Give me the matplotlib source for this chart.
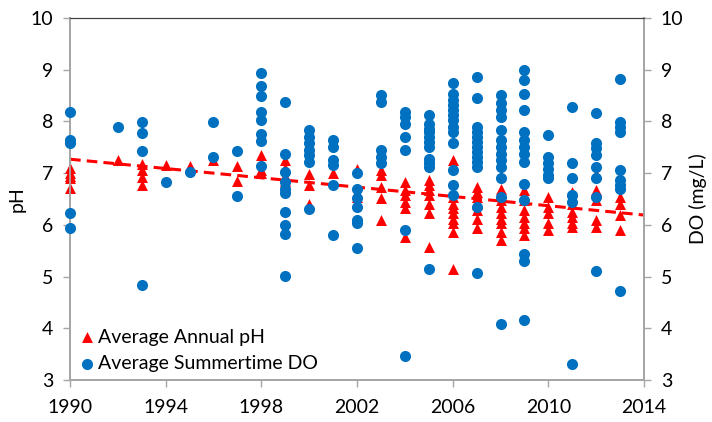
import numpy as np
import matplotlib
matplotlib.use("Agg")
import matplotlib.pyplot as plt

# pH annual averages, per year
ph_years = ([1990] * 5 + [1992] + [1993] * 4 + [1994, 1995, 1996] + [1997] * 2 + [1998] * 3
            + [1999] * 4 + [2000] * 3 + [2001] + [2002] * 3 + [2003] * 5 + [2004] * 6
            + [2005] * 7 + [2006] * 9 + [2007] * 7 + [2008] * 8 + [2009] * 7 + [2010] * 5
            + [2011] * 6 + [2012] * 5 + [2013] * 4)
ph_values = [7.10, 7.00, 6.95, 6.90, 6.71,
             7.25,
             7.18, 7.06, 6.93, 6.77,
             7.16, 7.14, 7.25,
             7.14, 6.85,
             7.35, 7.06, 7.00,
             7.25, 7.10, 6.95, 6.85,
             6.99, 6.77, 6.41,
             7.00,
             7.09, 6.61, 6.54,
             7.06, 6.96, 6.74, 6.51, 6.09,
             6.83, 6.67, 6.57, 6.44, 6.32, 5.77,
             6.86, 6.77, 6.67, 6.57, 6.41, 6.22, 5.57,
             7.25, 6.54, 6.41, 6.32, 6.22, 6.12, 6.03, 5.86, 5.14,
             6.74, 6.64, 6.54, 6.41, 6.28, 6.12, 5.93,
             6.70, 6.48, 6.35, 6.22, 6.12, 6.03, 5.86, 5.70,
             6.67, 6.48, 6.28, 6.15, 6.03, 5.93, 5.80,
             6.54, 6.35, 6.22, 6.03, 5.90,
             6.64, 6.41, 6.25, 6.15, 6.03, 5.96,
             6.99, 6.67, 6.48, 6.09, 5.96,
             6.54, 6.41, 6.19, 5.90]

# summertime dissolved oxygen, per year
do_years = ([1990] * 5 + [1992] + [1993] * 4 + [1994, 1995] + [1996] * 2 + [1997] * 2
            + [1998] * 8 + [1999] * 10 + [2000] * 7 + [2001] * 6 + [2002] * 7 + [2003] * 5
            + [2004] * 7 + [2005] * 11 + [2006] * 13 + [2007] * 13 + [2008] * 13
            + [2009] * 14 + [2010] * 6 + [2011] * 6 + [2012] * 8 + [2013] * 9)
do_values = [8.18, 7.64, 7.58, 6.23, 5.93,
             7.90,
             7.99, 7.77, 7.43, 4.84,
             6.83, 7.03,
             7.99, 7.32,
             7.43, 6.56,
             8.94, 8.68, 8.49, 8.19, 8.03, 7.75, 7.63, 7.14,
             8.38, 7.37, 7.03, 6.83, 6.70, 6.61, 6.24, 5.99, 5.83, 5.01,
             7.83, 7.70, 7.58, 7.45, 7.35, 7.22, 6.30,
             7.64, 7.51, 7.25, 7.16, 6.77, 5.81,
             7.00, 6.70, 6.51, 6.35, 6.09, 6.03, 5.56,
             8.51, 8.38, 7.45, 7.32, 7.19,
             8.19, 8.09, 7.96, 7.70, 7.45, 5.91, 3.46,
             8.12, 7.96, 7.86, 7.80, 7.70, 7.61, 7.51, 7.28, 7.19, 7.12, 5.14,
             8.74, 8.54, 8.41, 8.32, 8.22, 8.12, 8.03, 7.90, 7.80, 7.58, 7.06, 6.77, 6.57,
             8.86, 8.45, 7.90, 7.80, 7.70, 7.61, 7.51, 7.41, 7.32, 7.22, 7.12, 6.35, 5.07,
             8.51, 8.35, 8.22, 8.09, 7.83, 7.64, 7.51, 7.38, 7.25, 7.12, 6.90, 6.54, 4.09,
             8.99, 8.80, 8.54, 8.22, 7.80, 7.64, 7.51, 7.38, 7.22, 6.80, 6.48, 5.43, 5.30, 4.17,
             7.74, 7.32, 7.19, 7.09, 6.96, 6.90,
             8.28, 7.19, 6.90, 6.57, 6.44, 3.30,
             8.16, 7.58, 7.48, 7.35, 7.12, 6.90, 6.54, 5.10,
             8.83, 7.99, 7.90, 7.80, 7.06, 6.86, 6.77, 6.70, 4.72]

# linear trend of pH (end points)
trend_years = [1990, 2014]
trend_values = [7.27, 6.19]

x_ticks = [1990, 1994, 1998, 2002, 2006, 2010, 2014]
y_ticks = [3, 4, 5, 6, 7, 8, 9, 10]

plt.rcParams['font.family'] = ['Lato', 'DejaVu Sans']

fig = plt.figure(figsize=(7.12, 4.22), dpi=100)
ax = fig.add_axes([0.0983, 0.0995, 0.8062, 0.8578])
ax2 = ax.twinx()

blue = '#0070C0'
red = '#FF0000'
gray = '#A6A6A6'

h1 = ax.scatter(ph_years, ph_values, marker='^', s=62, color=red, linewidths=0,
                label='Average Annual pH', zorder=3, clip_on=False)
ax.plot(trend_years, trend_values, color=red, linestyle=(0, (3.5, 2)), linewidth=2.2, zorder=4)
h2 = ax2.scatter(do_years, do_values, marker='o', s=64, color=blue, linewidths=0,
                 label='Average Summertime DO', zorder=3, clip_on=False)

for a in (ax, ax2):
    a.set_xlim(1990, 2014)
    a.set_ylim(3, 10)
    a.set_yticks(y_ticks)
    for side in ('left', 'right', 'bottom'):
        a.spines[side].set_color(gray)
        a.spines[side].set_linewidth(1.3)
    a.spines['top'].set_color('#404040')
    a.spines['top'].set_linewidth(0.8)
    a.tick_params(colors=gray, labelcolor='black', labelsize=14, length=5, width=1)
    a.tick_params(axis='y', pad=7)
    a.tick_params(axis='x', pad=9)

ax.set_xticks(x_ticks)
ax.set_ylabel('pH', fontsize=14, labelpad=4)
ax2.set_ylabel('DO (mg/L)', fontsize=14, labelpad=4)

ax.legend(handles=[h1, h2], loc='lower left', frameon=False, fontsize=14,
          handletextpad=0.05, borderaxespad=0.2, labelspacing=0.5, handlelength=1.0,
          borderpad=0.2)

fig.savefig('out.png', dpi=100)
